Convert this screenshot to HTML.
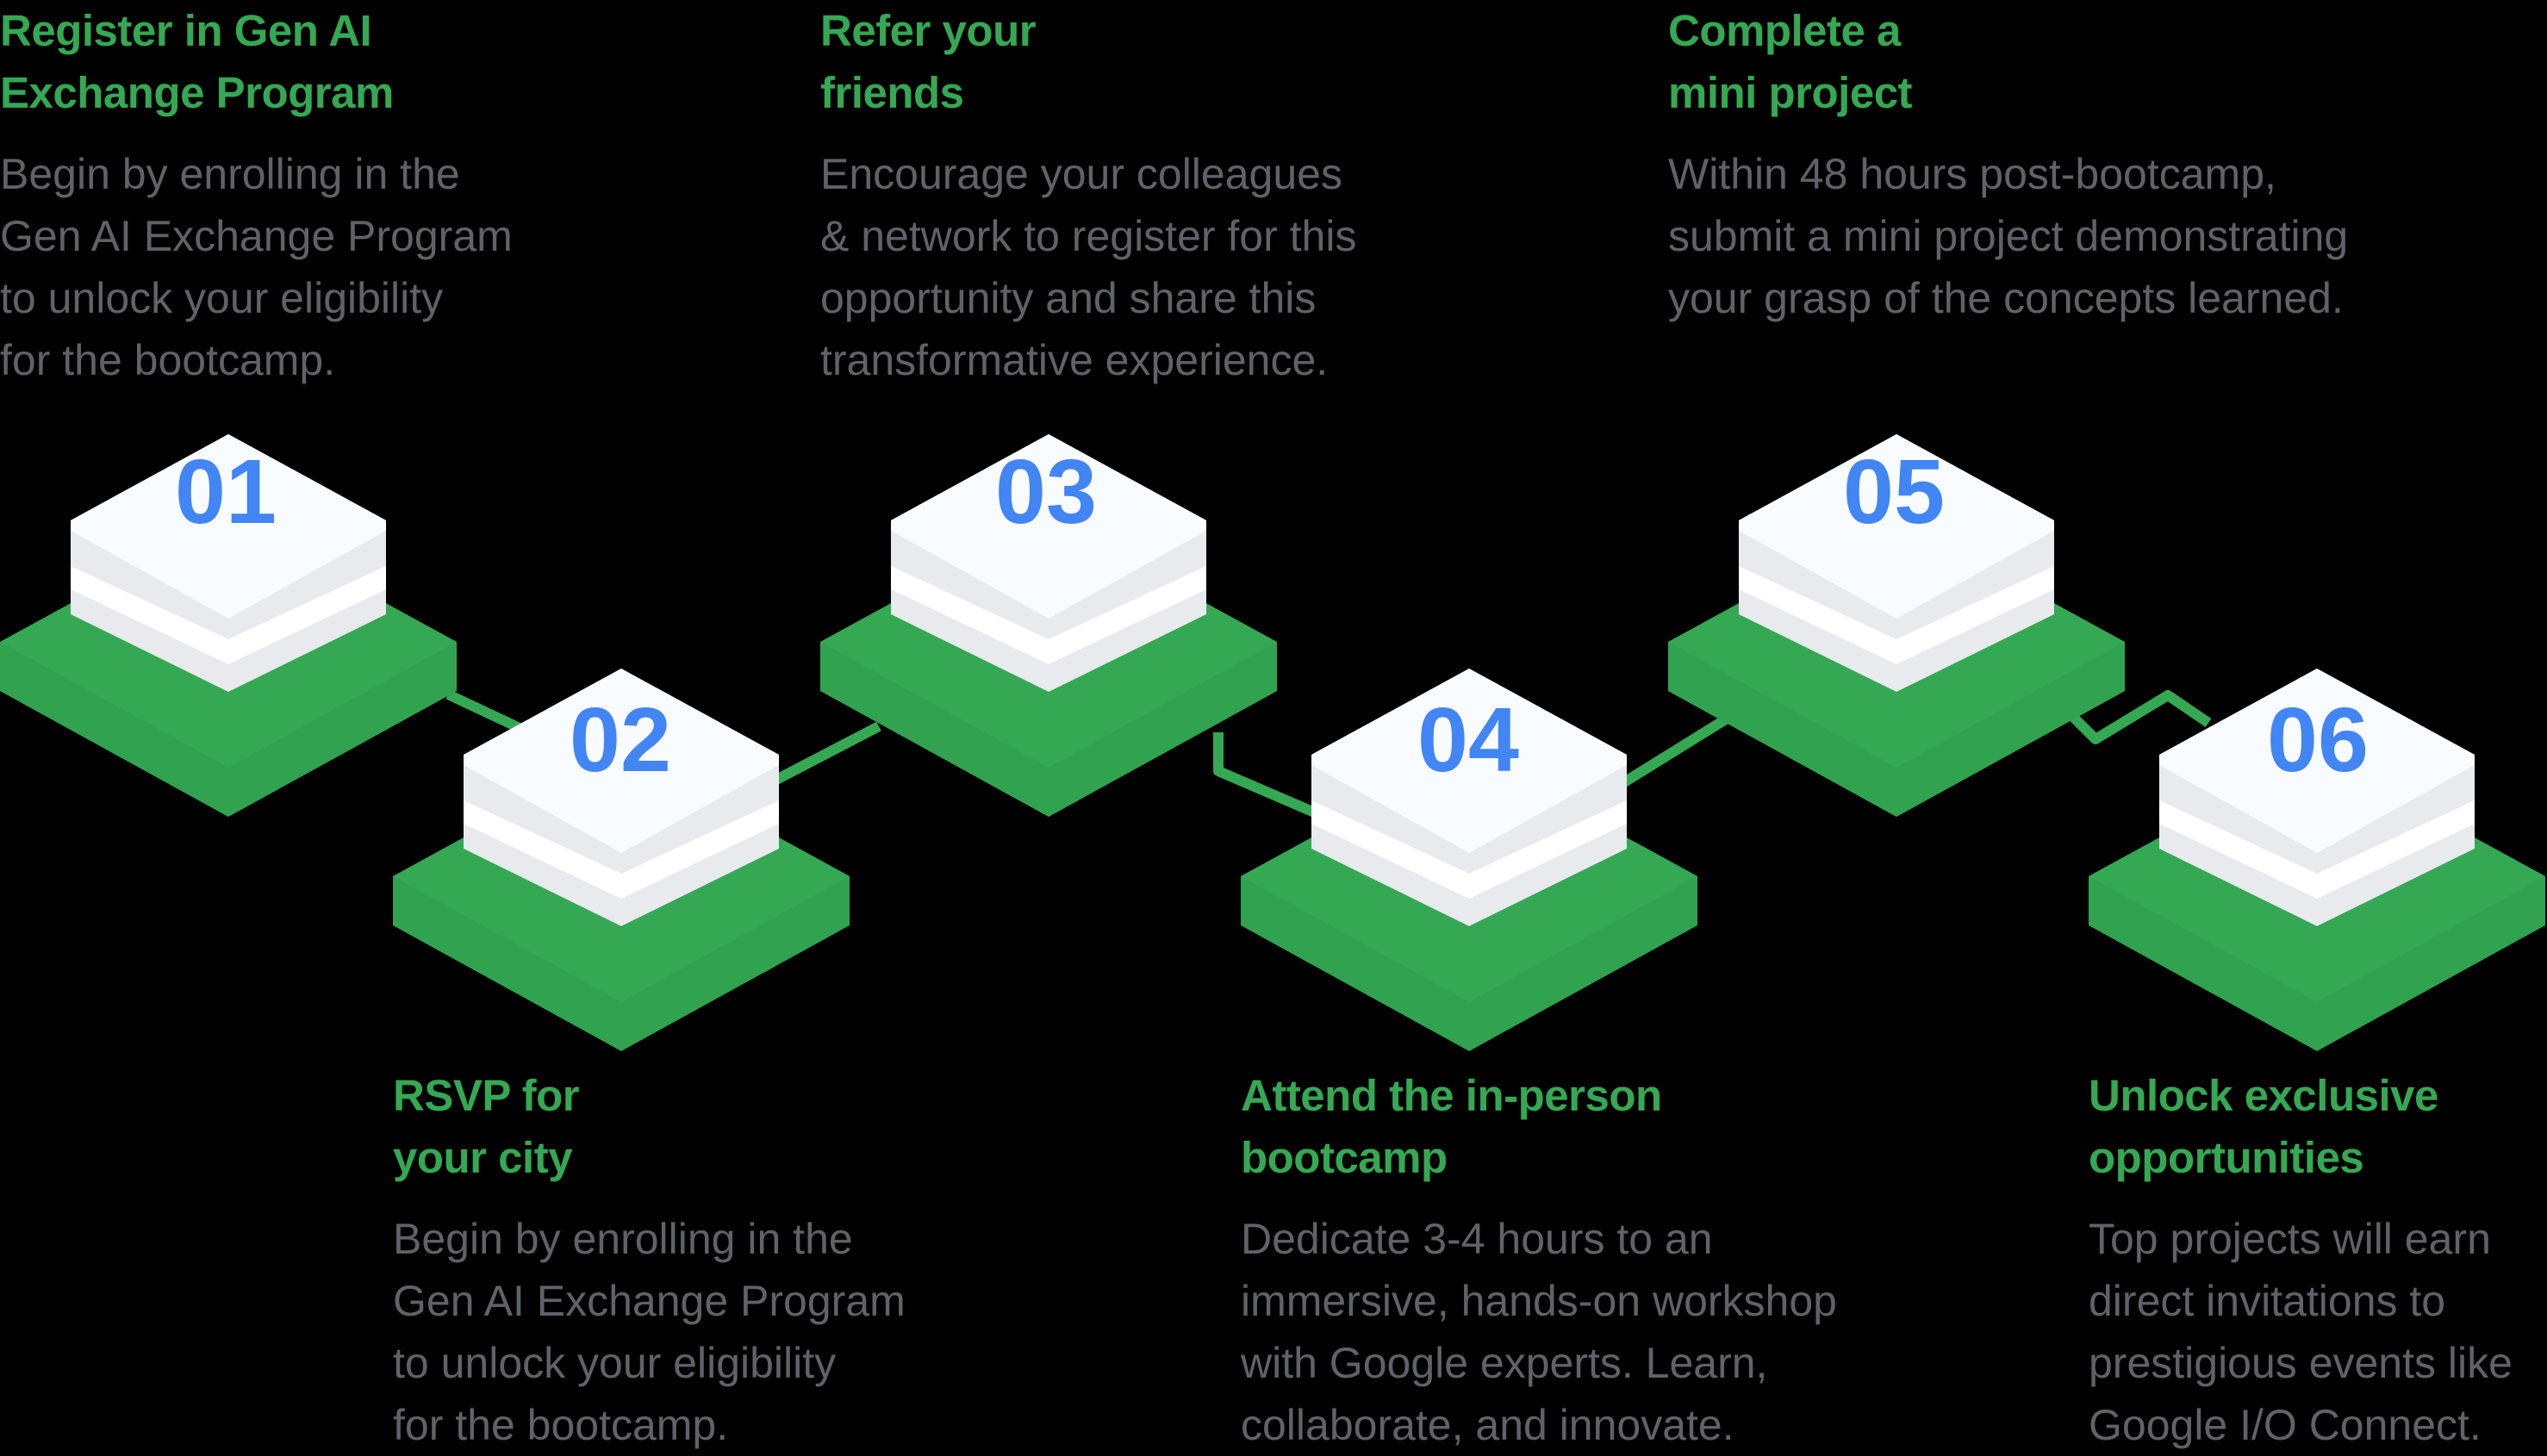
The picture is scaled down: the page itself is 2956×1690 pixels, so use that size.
<!DOCTYPE html>
<html><head><meta charset="utf-8"><style>
html,body{margin:0;padding:0;background:#000;}
body{width:2956px;height:1688px;position:relative;overflow:hidden;font-family:"Liberation Sans",sans-serif;}
.t{position:absolute;color:#34a853;font-size:51px;font-weight:bold;line-height:72px;letter-spacing:-0.5px;white-space:nowrap;}
.b{position:absolute;color:#5f6368;font-size:50px;line-height:72px;letter-spacing:0px;white-space:nowrap;}
svg{position:absolute;left:0;top:0;}
</style></head><body>
<svg width="2956" height="1688" viewBox="0 0 2956 1688">
<defs>
<g id="blk">
  <polygon points="0,745 265,600 530,745 530,802 265,948 0,802" fill="#34a853"/>
  <polygon points="0,745 265,891 530,745 530,802 265,948 0,802" fill="#31a24f"/>
  <polygon points="82,604 265,504 448,604 448,713 265,803 82,713" fill="#e8eaed"/>
  <polygon points="82,657 265,742 448,657 448,684 265,771 82,684" fill="#ffffff"/>
  <polygon points="82,604 265,504 448,604 448,616 265,718 82,616" fill="#f8fbff"/>
</g>
</defs>
<g stroke="#34a853" stroke-width="12" fill="none" stroke-linejoin="round">
  <polyline points="520,806 603,845"/>
  <polyline points="901,905 1020,843"/>
  <polyline points="1414,850 1414,895 1530,945"/>
  <polyline points="1885,908 2030,818"/>
  <polyline points="2394,820 2432,858 2516,807 2563,839"/>
</g>
<use href="#blk"/>
<use href="#blk" transform="translate(456,272)"/>
<use href="#blk" transform="translate(952,0)"/>
<use href="#blk" transform="translate(1440,272)"/>
<use href="#blk" transform="translate(1936,0)"/>
<use href="#blk" transform="translate(2424,272)"/>
<g fill="#4285f4" font-family="Liberation Sans, sans-serif" font-weight="bold" font-size="106" text-anchor="middle">
  <text x="262" y="607">01</text>
  <text x="720" y="895">02</text>
  <text x="1214" y="607">03</text>
  <text x="1704" y="895">04</text>
  <text x="2198" y="607">05</text>
  <text x="2690" y="895">06</text>
</g>
</svg>

<div class="t" style="left:0;top:0">Register in Gen AI<br>Exchange Program</div>
<div class="b" style="left:0;top:166px">Begin by enrolling in the<br>Gen AI Exchange Program<br>to unlock your eligibility<br>for the bootcamp.</div>

<div class="t" style="left:952px;top:0">Refer your<br>friends</div>
<div class="b" style="left:952px;top:166px">Encourage your colleagues<br>&amp; network to register for this<br>opportunity and share this<br>transformative experience.</div>

<div class="t" style="left:1936px;top:0">Complete a<br>mini project</div>
<div class="b" style="left:1936px;top:166px">Within 48 hours post-bootcamp,<br>submit a mini project demonstrating<br>your grasp of the concepts learned.</div>

<div class="t" style="left:456px;top:1236px">RSVP for<br>your city</div>
<div class="b" style="left:456px;top:1402px">Begin by enrolling in the<br>Gen AI Exchange Program<br>to unlock your eligibility<br>for the bootcamp.</div>

<div class="t" style="left:1440px;top:1236px">Attend the in-person<br>bootcamp</div>
<div class="b" style="left:1440px;top:1402px">Dedicate 3-4 hours to an<br>immersive, hands-on workshop<br>with Google experts. Learn,<br>collaborate, and innovate.</div>

<div class="t" style="left:2424px;top:1236px">Unlock exclusive<br>opportunities</div>
<div class="b" style="left:2424px;top:1402px">Top projects will earn<br>direct invitations to<br>prestigious events like<br>Google I/O Connect.</div>
</body></html>
